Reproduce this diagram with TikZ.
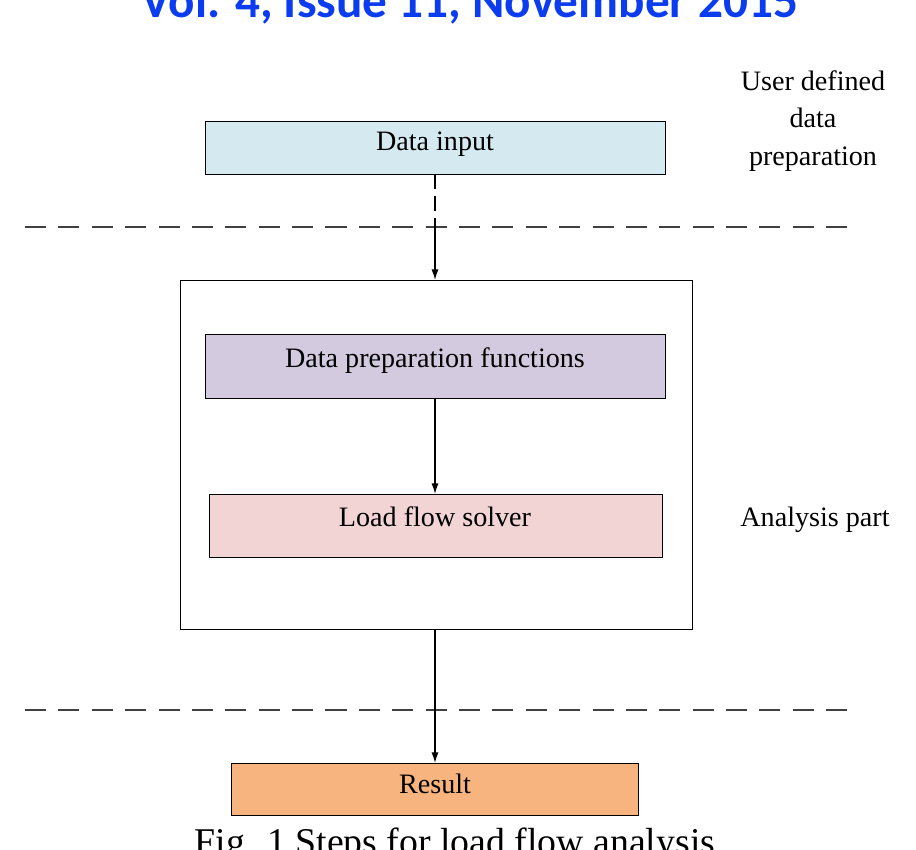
\documentclass[tikz,border=0pt]{standalone}
\usepackage{fontspec}
\setmainfont{Liberation Serif}
\newfontfamily\hdr{Carlito}
\usetikzlibrary{arrows.meta}
\definecolor{cin}{HTML}{D5EAF0}
\definecolor{cprep}{HTML}{D3CAE0}
\definecolor{csolv}{HTML}{F2D4D4}
\definecolor{cres}{HTML}{F8B47E}
\definecolor{hblue}{HTML}{0B3CF0}
\begin{document}
\begin{tikzpicture}[x=0.02cm,y=-0.02cm,
  box/.style={draw,line width=0.8pt,inner sep=0pt,font=\fontsize{16}{18}\selectfont},
  lbl/.style={font=\fontsize{16}{19}\selectfont,align=center},
  arr/.style={-{Latex[length=6pt,width=4pt]},line width=0.8pt},
  dsh/.style={dash pattern=on 12pt off 7pt,line width=1.1pt,draw=black!75}]
\clip (0,0) rectangle (916,849);
\fill[white] (0,0) rectangle (916,849);
\node[font=\hdr\bfseries\fontsize{28}{30}\selectfont,text=hblue] (hd) at (470,4) {Vol. 4, Issue 11, November 2015};
\node[box,fill=cin,minimum width=460*0.02cm,minimum height=53*0.02cm,anchor=north west] (in) at (205,121) {};
\node[lbl,anchor=north] at (435,126) {Data input};
\node[box,minimum width=512*0.02cm,minimum height=349*0.02cm,anchor=north west] (big) at (180,280) {};
\node[box,fill=cprep,minimum width=460*0.02cm,minimum height=64*0.02cm,anchor=north west] (prep) at (205,334) {};
\node[lbl,anchor=north] at (435,341) {Data preparation functions};
\node[box,fill=csolv,minimum width=453*0.02cm,minimum height=63*0.02cm,anchor=north west] (solv) at (209,494) {};
\node[lbl,anchor=north] at (435,500) {Load flow solver};
\node[box,fill=cres,minimum width=407*0.02cm,minimum height=52*0.02cm,anchor=north west] (res) at (231,763) {};
\node[lbl,anchor=north] at (435,768) {Result};
\draw[dsh] (25,227) -- (850,227);
\draw[dsh] (25,710) -- (850,710);
\coordinate (m) at (435,227);
\draw[line width=0.8pt,dash pattern=on 8pt off 4pt] (in.south -| m) -- (m);
\draw[arr] (m) -- (big.north -| m);
\draw[arr] (prep.south -| m) -- (solv.north -| m);
\draw[arr] (big.south -| m) -- (res.north -| m);
\node[lbl,font=\fontsize{16}{21.5}\selectfont] (ud) at (813,121) {User defined\\data\\preparation};
\node[lbl] (ap) at (815,520) {Analysis part};
\node[font=\fontsize{21.5}{24}\selectfont] (cap) at (455,845) {Fig. 1 Steps for load flow analysis};
\end{tikzpicture}
\end{document}
